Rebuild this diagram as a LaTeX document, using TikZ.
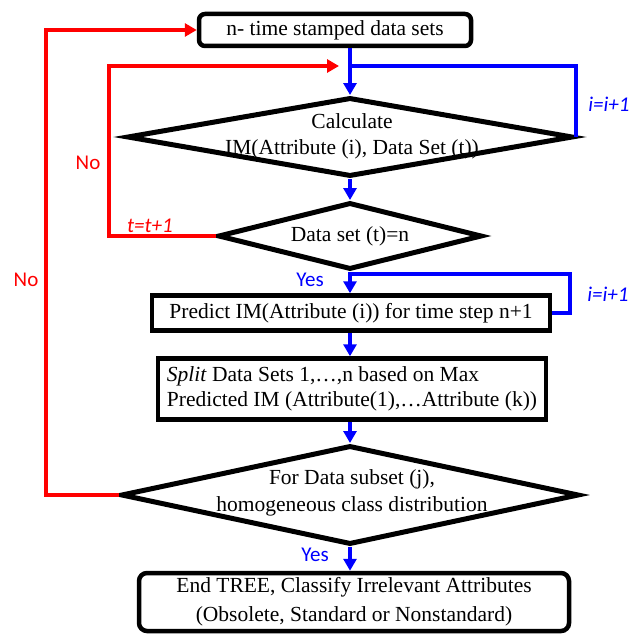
\documentclass[tikz,border=0pt]{standalone}
\usepackage{fontspec}
\setmainfont{Liberation Serif}
\newfontfamily\labfont{Carlito}
\usetikzlibrary{shapes.geometric,arrows.meta}
\definecolor{myblue}{RGB}{0,0,255}
\definecolor{myred}{RGB}{255,0,0}
\begin{document}
\begin{tikzpicture}[x=1pt,y=-1pt,
  box/.style={draw=black, line width=4.5pt, fill=white, inner sep=0pt,
    font=\fontsize{21.5}{26}\selectfont, align=center},
  dia/.style={draw=black, shape=diamond, line width=5pt, inner sep=0pt, fill=white},
  txt/.style={font=\fontsize{21.5}{27}\selectfont, align=center, inner sep=0pt},
  bline/.style={draw=myblue, line width=4pt},
  barrow/.style={bline, -{Triangle[length=12pt,width=13pt]}},
  rline/.style={draw=myred, line width=4pt},
  rarrow/.style={rline, -{Triangle[length=12pt,width=13pt]}},
  lab/.style={font=\labfont\fontsize{21}{24}\selectfont, inner sep=0pt}
]
\useasboundingbox (0,0) rectangle (644,634);

% nodes
\node[box, rounded corners=6pt, minimum width=272pt, minimum height=32pt] (top) at (335,30) {n- time stamped data sets};
\node[dia, minimum width=446pt, minimum height=79pt] (d1) at (350,137) {};
\node[txt, font=\fontsize{21.5}{26}\selectfont] (d1t) at (352,136) {Calculate\\IM(Attribute (i), Data Set (t))};
\node[dia, minimum width=264pt, minimum height=67pt] (d2) at (350,236) {};
\node[txt] (d2t) at (350,236) {Data set (t)=n};
\node[box, minimum width=398pt, minimum height=35pt] (pred) at (351,313) {Predict IM(Attribute (i)) for time step n+1};
\node[box, minimum width=388pt, minimum height=61pt, align=left, font=\fontsize{21.5}{25}\selectfont] (split) at (352,389) {\textit{Split} Data Sets 1,…,n based on Max\\Predicted IM (Attribute(1),…Attribute (k))};
\node[dia, minimum width=458pt, minimum height=99pt] (d3) at (350,495) {};
\node[txt] (d3t) at (352,493) {For Data subset (j),\\homogeneous class distribution};
\node[box, rounded corners=8pt, minimum width=430pt, minimum height=58pt, font=\fontsize{21.5}{29}\selectfont] (end) at (354,602) {End TREE, Classify Irrelevant Attributes\\(Obsolete, Standard or Nonstandard)};

% coordinates
\coordinate (J1) at (350,66);
\coordinate (J1in) at (339,66);
\coordinate (R1) at (109,66);
\coordinate (J2) at (350,274);
\coordinate (J2r) at (570,274);
\coordinate (R2) at (46,30);

% blue connectors
\draw[bline] (top.south -| J1) -- (J1);
\draw[barrow] (J1) -- (d1.north);
\draw[bline] (J1) -| (d1.east);
\draw[barrow] (d1.south) -- (d2.north);
\draw[bline] (d2.south) -- (J2);
\draw[barrow] (J2) -- (pred.north -| J2);
\draw[bline] (J2) -- (J2r) |- (pred.east);
\draw[barrow] (pred.south -| J2) -- (split.north -| J2);
\draw[barrow] (split.south -| J2) -- (d3.north);
\draw[barrow] (d3.south) -- (end.north -| d3.south);

% red connectors
\draw[rarrow] (d2.west) -| (R1) -- (J1in);
\draw[rarrow] (d3.west) -| (R2) -- (top.west);

% labels
\node[lab, text=myred] (no1) at (88,163) {No};
\node[lab, text=myred] (no2) at (26,280) {No};
\node[lab, text=myred] (tt) at (150,226) {\itshape t=t+1};
\node[lab, text=myblue] (ii1) at (609,104) {\itshape i=i+1};
\node[lab, text=myblue] (ii2) at (608,294) {\itshape i=i+1};
\node[lab, text=myblue] (yes1) at (310,280) {Yes};
\node[lab, text=myblue] (yes2) at (315,555) {Yes};
\end{tikzpicture}
\end{document}
